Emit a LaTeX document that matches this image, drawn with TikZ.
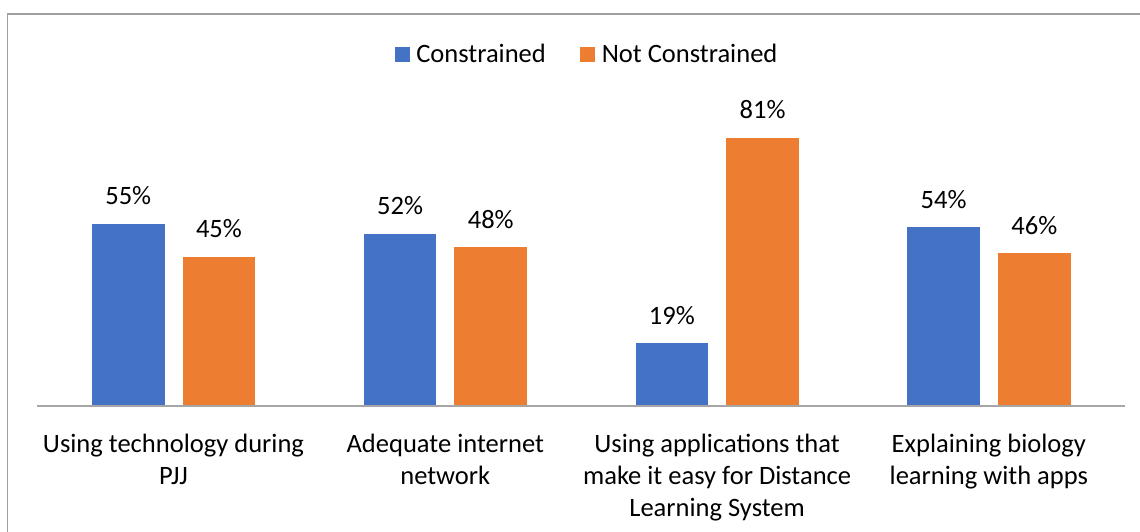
\documentclass[tikz,border=0pt]{standalone}
\usepackage{fontspec}
\setmainfont{Carlito}
\definecolor{cblue}{HTML}{4472C4}
\definecolor{corange}{HTML}{ED7D31}
\definecolor{framegray}{HTML}{A0A0A0}
\definecolor{axisgray}{HTML}{A6A6A6}
\begin{document}
\begin{tikzpicture}[x=0.75pt,y=-0.75pt,
  txt/.style={font=\fontsize{19.9pt}{24.2pt}\selectfont, inner sep=0pt, text=black},
  cbar/.style={fill=cblue, draw=none, inner sep=0pt, minimum width=54.4pt, anchor=south},
  nbar/.style={fill=corange, draw=none, inner sep=0pt, minimum width=54.4pt, anchor=south},
  val/.style={txt, anchor=base},
  cat/.style={txt, align=center, anchor=north},
  sq/.style={inner sep=0pt, minimum size=11.25pt, draw=none}]
\useasboundingbox (0,0) rectangle (1140,532);
\fill[white] (0,0) rectangle (1140,532);
\coordinate (fb) at (7.5,532);
\coordinate (ftl) at (7.5,14);
\coordinate (fr) at (1140,14);
\draw[framegray, line width=1.1pt] (fb) -- (ftl) -- (fr);
% legend
\node[sq, fill=cblue] (lc) at (402.5,54.5) {};
\node[txt, anchor=base west] (lct) at (416,62) {Constrained};
\node[sq, fill=corange] (ln) at (587.5,54.5) {};
\node[txt, anchor=base west] (lnt) at (601.5,62) {Not Constrained};
% bars
\foreach \i/\a/\b in {1/55/45,2/52/48,3/19/81,4/54/46}{
  \pgfmathsetmacro\c{173.5+271.8*(\i-1)}
  \node[cbar, minimum height=\a*2.4825pt] (c\i) at (\c-45.25,406) {};
  \node[nbar, minimum height=\b*2.4825pt] (n\i) at (\c+45.45,406) {};
  \node[val] (vc\i) at ([yshift=13.9pt]c\i.north) {\a\%};
  \node[val] (vn\i) at ([yshift=13.9pt]n\i.north) {\b\%};
}
% axis
\coordinate (axL) at (37,406);
\coordinate (axR) at (1125,406);
\draw[axisgray, line width=0.9pt] (axL) -- (axR);
% category labels
\node[cat] (k1) at (173.5,433.5) {Using technology during\\PJJ};
\node[cat] (k2) at (445.3,433.5) {Adequate internet\\network};
\node[cat] (k3) at (717.1,433.5) {Using applications that\\make it easy for Distance\\Learning System};
\node[cat] (k4) at (988.9,433.5) {Explaining biology\\learning with apps};
\end{tikzpicture}
\end{document}
